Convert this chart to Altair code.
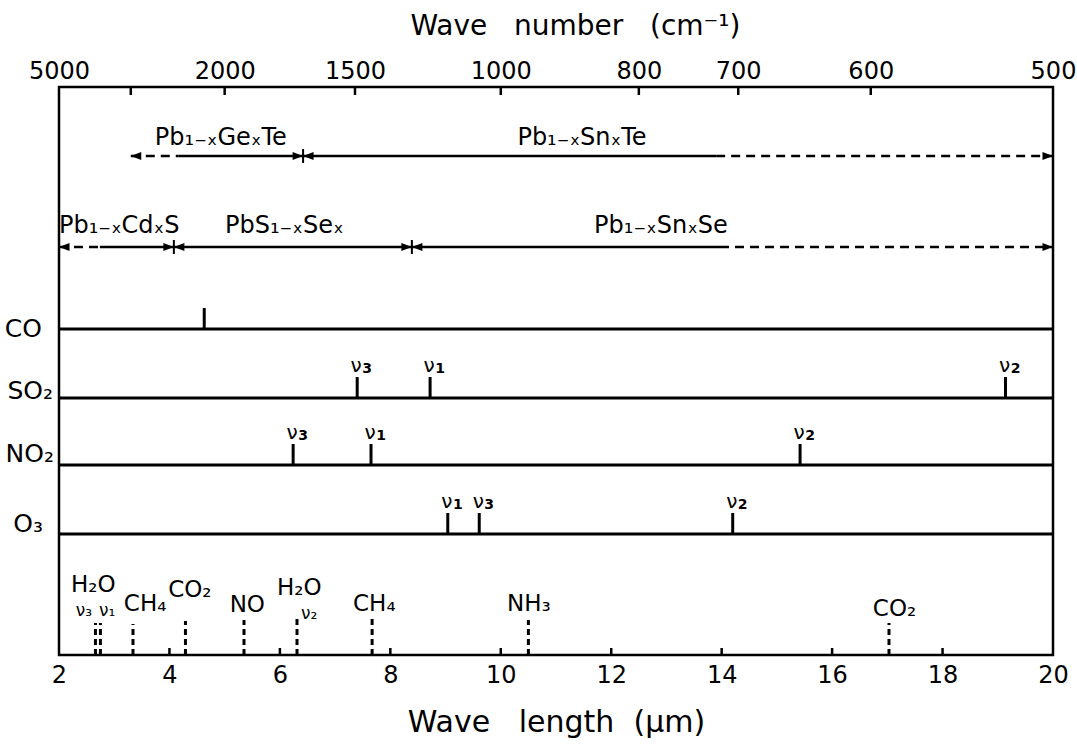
import altair as alt
import pandas as pd

FONT = "DejaVu Sans"
NB = "\u00a0"

# ---------------- axes ----------------
WL_TICKS = [2, 4, 6, 8, 10, 12, 14, 16, 18, 20]          # wavelength (μm)
WL_INNER_TICKS = [4, 6, 8, 10, 12, 14, 16, 18]
WN_POS = [2.0, 3.3, 5.0, 7.36, 10.0, 12.5, 14.3, 16.7, 20.0]  # where wave-number ticks sit (μm)
WN_LABELS = ["5000", "", "2000", "1500", "1000", "800", "700", "600", "500"]
TOP_TITLE = f"Wave{NB*3}number{NB*3}(cm⁻¹)"
BOTTOM_TITLE = f"Wave{NB*3}length{NB*2}(μm)"

# ---------------- laser materials (μm) ----------------
MAT_NAMES = ["Pb₁₋ₓGeₓTe", "Pb₁₋ₓSnₓTe", "Pb₁₋ₓCdₓS", "PbS₁₋ₓSeₓ", "Pb₁₋ₓSnₓSe"]
MAT_ROW = [1, 1, 2, 2, 2]
MAT_LO = [3.30, 6.42, 2.00, 4.08, 8.39]
MAT_SOLID_LO = [4.17, 6.42, 2.74, 4.08, 8.39]
MAT_SOLID_HI = [6.42, 13.90, 4.08, 8.39, 13.97]
MAT_HI = [6.42, 20.00, 4.08, 8.39, 20.00]
MAT_LABEL_X = [4.93, 11.47, 3.09, 6.08, 12.90]
JUNCTIONS_ROW = [1, 2, 2]
JUNCTIONS_X = [6.42, 4.08, 8.39]

# ---------------- gases with bands (μm) ----------------
GAS_NAMES = ["CO", "SO₂", "NO₂", "O₃"]
BAND_GAS = ["CO", "SO₂", "SO₂", "SO₂", "NO₂", "NO₂", "NO₂", "O₃", "O₃", "O₃"]
BAND_X = [4.63, 7.40, 8.72, 19.14, 6.24, 7.65, 15.42, 9.04, 9.61, 14.20]
BAND_MODE = ["", "3", "1", "2", "3", "1", "2", "1", "3", "2"]

# ---------------- atmospheric interferences (μm) ----------------
ATM_X = [2.66, 2.75, 3.34, 4.29, 5.35, 6.31, 7.67, 10.50, 17.03]
ATM_TOP = [32, 32, 31, 34, 35, 36, 37, 35, 32]
ATM_LABELS = ["H₂O", "ν₃", "ν₁", "CH₄", "CO₂", "NO", "H₂O", "ν₂", "CH₄", "NH₃", "CO₂"]
ATM_LABEL_X = [2.62, 2.45, 2.87, 3.56, 4.37, 5.41, 6.35, 6.53, 7.71, 10.51, 17.13]
ATM_LABEL_Y = [70, 44, 44, 51, 65, 50, 67, 41, 51, 51, 46]
ATM_LABEL_SMALL = [False, True, True, False, False, False, False, True, False, False, False]

# ---------------- layout (px above the bottom axis) ----------------
W, H = 994, 568
ROW_Y = {1: 499, 2: 408}
ROW_LABEL_Y = {1: 517, 2: 429}
GAS_Y = {"CO": 326, "SO₂": 257, "NO₂": 190, "O₃": 121}
GAS_LABEL_RAISE = {"CO": 0, "SO₂": 7, "NO₂": 11, "O₃": 10}
GAS_LABEL_RIGHT_PX = {"CO": -13, "SO₂": -2, "NO₂": -1, "O₃": -12}
PX_PER_UM = W / 18.0

xs = alt.Scale(domain=[2, 20], nice=False, zero=False)
ys = alt.Scale(domain=[0, H], nice=False, zero=False)


def X(field="x", **kw):
    return alt.X(f"{field}:Q", scale=xs, axis=kw.pop("axis", None), **kw)


def Y(field="y"):
    return alt.Y(f"{field}:Q", scale=ys, axis=None)


# label expression for the wave-number axis
expr = "''"
for p, lab in reversed(list(zip(WN_POS, WN_LABELS))):
    expr = f"datum.value == {p} ? '{lab}' : ({expr})"

# ----- bottom ticks + bottom axis
bt = pd.DataFrame({"x": WL_INNER_TICKS, "y": [0] * len(WL_INNER_TICKS), "y2": [7] * len(WL_INNER_TICKS)})
bottom = alt.Chart(bt).mark_rule(color="black", strokeWidth=2.5).encode(
    x=X(axis=alt.Axis(orient="bottom", values=WL_TICKS, ticks=False, tickSize=0, domain=False, grid=False,
                      labelFont=FONT, labelFontSize=24, labelColor="black", labelPadding=8,
                      labelFlush=False, labelOverlap=False, format="d",
                      title=BOTTOM_TITLE, titleFont=FONT, titleFontSize=30,
                      titleFontWeight="normal", titleColor="black", titlePadding=20)),
    y=Y(), y2="y2:Q")

# ----- top ticks + top axis
tpos = WN_POS[1:-1]
tt = pd.DataFrame({"x": tpos, "y": [H] * len(tpos), "y2": [H - 8] * len(tpos)})
top = alt.Chart(tt).mark_rule(color="black", strokeWidth=2.5).encode(
    x=X(axis=alt.Axis(orient="top", values=WN_POS, ticks=False, tickSize=0, domain=False, grid=False,
                      labelExpr=expr, labelFont=FONT, labelFontSize=24, labelColor="black",
                      labelPadding=4, labelFlush=False, labelOverlap=False,
                      title=TOP_TITLE, titleFont=FONT, titleFontSize=28, titleX=516,
                      titleFontWeight="normal", titleColor="black", titlePadding=19)),
    y=Y(), y2="y2:Q")

# ----- gas baselines
gl = pd.DataFrame({"x": [2] * 4, "x2": [20] * 4, "y": [GAS_Y[g] for g in GAS_NAMES]})
gas_lines = alt.Chart(gl).mark_rule(color="black", strokeWidth=3).encode(x=X(), x2="x2:Q", y=Y())

glab = pd.DataFrame({
    "x": [2 + (GAS_LABEL_RIGHT_PX[g] - 4) / PX_PER_UM for g in GAS_NAMES],
    "y": [GAS_Y[g] + GAS_LABEL_RAISE[g] for g in GAS_NAMES],
    "t": GAS_NAMES})
gas_labels = alt.Chart(glab).mark_text(align="right", baseline="middle", font=FONT, fontSize=25,
                                       color="black").encode(x=X(), y=Y(), text="t:N")

# ----- band ticks and labels (ν with mode number)
bd = pd.DataFrame({"x": BAND_X, "y": [GAS_Y[g] for g in BAND_GAS],
                   "y2": [GAS_Y[g] + 21 for g in BAND_GAS],
                   "ly": [GAS_Y[g] + 32 for g in BAND_GAS], "m": BAND_MODE})
bd_lab = bd[bd.m != ""].copy()
bd_lab["nu"] = "ν"
band_ticks = alt.Chart(bd).mark_rule(color="black", strokeWidth=3).encode(x=X(), y=Y(), y2="y2:Q")
band_nu = alt.Chart(bd_lab).mark_text(align="center", baseline="middle", dx=-1, font=FONT, fontSize=20,
                                      color="black").encode(x=X(), y=Y("ly"), text="nu:N")
band_num = alt.Chart(bd_lab).mark_text(align="center", baseline="middle", dx=10, dy=3, font=FONT,
                                       fontSize=14, fontWeight="bold", color="black").encode(
    x=X(), y=Y("ly"), text="m:N")

# ----- material ranges
seg = []
for i in range(len(MAT_NAMES)):
    y = ROW_Y[MAT_ROW[i]]
    if MAT_SOLID_LO[i] > MAT_LO[i]:
        seg.append(dict(x=MAT_LO[i], x2=MAT_SOLID_LO[i], y=y, kind="dashed"))
    seg.append(dict(x=MAT_SOLID_LO[i], x2=MAT_SOLID_HI[i], y=y, kind="solid"))
    if MAT_HI[i] > MAT_SOLID_HI[i]:
        seg.append(dict(x=MAT_SOLID_HI[i], x2=MAT_HI[i], y=y, kind="dashed"))
seg = pd.DataFrame(seg)
solid = alt.Chart(seg[seg.kind == "solid"]).mark_rule(color="black", strokeWidth=2.5).encode(
    x=X(), x2="x2:Q", y=Y())
dashed = alt.Chart(seg[seg.kind == "dashed"]).mark_rule(color="black", strokeWidth=2.5,
                                                        strokeDash=[9, 6]).encode(x=X(), x2="x2:Q", y=Y())

heads_l = pd.DataFrame({"x": MAT_LO, "y": [ROW_Y[r] for r in MAT_ROW]})
heads_r = pd.DataFrame({"x": MAT_HI, "y": [ROW_Y[r] for r in MAT_ROW]})
arrow_l = alt.Chart(heads_l).mark_point(shape="M0,0L2,-0.75L2,0.75Z", filled=True, size=110, opacity=1,
                                        color="black").encode(x=X(), y=Y())
arrow_r = alt.Chart(heads_r).mark_point(shape="M0,0L-2,-0.75L-2,0.75Z", filled=True, size=110, opacity=1,
                                        color="black").encode(x=X(), y=Y())
jn = pd.DataFrame({"x": JUNCTIONS_X, "y": [ROW_Y[r] - 7 for r in JUNCTIONS_ROW],
                   "y2": [ROW_Y[r] + 7 for r in JUNCTIONS_ROW]})
junctions = alt.Chart(jn).mark_rule(color="black", strokeWidth=2).encode(x=X(), y=Y(), y2="y2:Q")
ml = pd.DataFrame({"x": MAT_LABEL_X, "y": [ROW_LABEL_Y[r] for r in MAT_ROW], "t": MAT_NAMES})
mat_labels = alt.Chart(ml).mark_text(align="center", baseline="middle", font=FONT, fontSize=24,
                                     color="black").encode(x=X(), y=Y(), text="t:N")

# ----- atmospheric lines
at = pd.DataFrame({"x": ATM_X, "y": [0] * len(ATM_X), "y2": ATM_TOP})
atm_lines = alt.Chart(at).mark_rule(color="black", strokeWidth=3, strokeDash=[6, 4]).encode(
    x=X(), y=Y(), y2="y2:Q")
al = pd.DataFrame({"x": ATM_LABEL_X, "y": ATM_LABEL_Y, "t": ATM_LABELS, "small": ATM_LABEL_SMALL})
atm_big = alt.Chart(al[~al.small]).mark_text(align="center", baseline="middle", font=FONT, fontSize=23,
                                             color="black").encode(x=X(), y=Y(), text="t:N")
atm_small = alt.Chart(al[al.small]).mark_text(align="center", baseline="middle", font=FONT, fontSize=17,
                                              color="black").encode(x=X(), y=Y(), text="t:N")

chart = alt.layer(
    bottom, top, gas_lines, gas_labels, band_ticks, band_nu, band_num,
    solid, dashed, arrow_l, arrow_r, junctions, mat_labels,
    atm_lines, atm_big, atm_small,
).resolve_axis(x="independent").properties(
    width=W, height=H,
    padding={"left": 59, "top": 87, "right": 24, "bottom": 89},
    autosize=alt.AutoSizeParams(type="none"),
    background="white",
).configure_view(stroke="black", strokeWidth=2.5)

chart.save("out.html", embed_options={"renderer": "svg", "actions": False})
